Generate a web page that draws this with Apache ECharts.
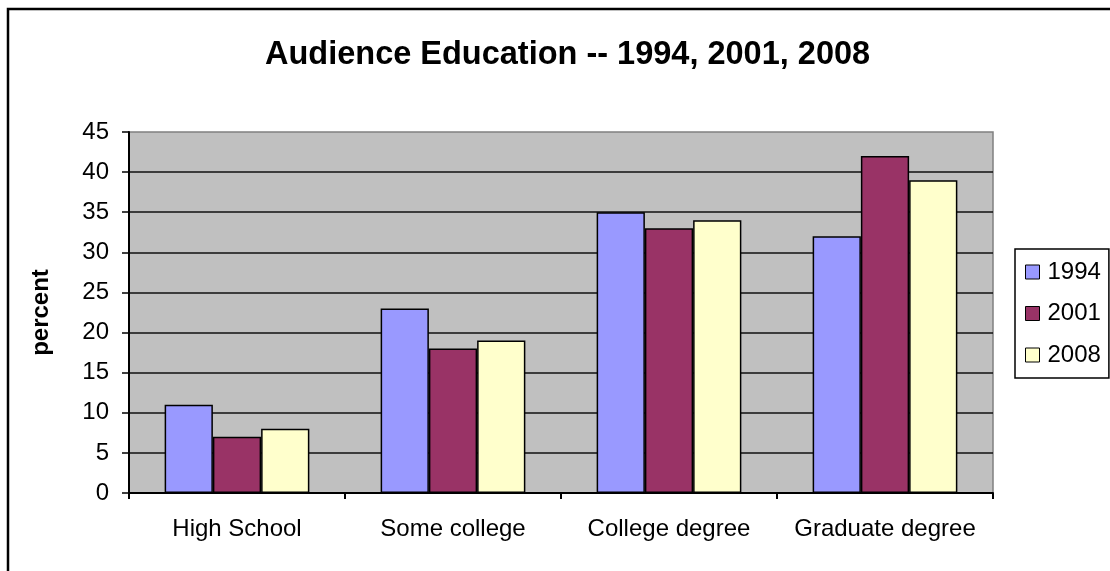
<!DOCTYPE html>
<html>
<head>
<meta charset="utf-8">
<script src="https://cdn.jsdelivr.net/npm/echarts@6/dist/echarts.min.js"></script>
<style>
  html, body { margin: 0; padding: 0; background: #fff; }
  #chart { width: 1110px; height: 571px; }
</style>
</head>
<body>
<div id="chart"></div>
<script>
var categories = ['High School', 'Some college', 'College degree', 'Graduate degree'];
var years = ['1994', '2001', '2008'];
var values1994 = [11, 23, 35, 32];
var values2001 = [7, 18, 33, 42];
var values2008 = [8, 19, 34, 39];
var colors = ['#9999FF', '#993366', '#FFFFCC'];
var yTicks = { min: 0, max: 45, interval: 5 };

var font = "'Liberation Sans', Arial, sans-serif";
var chart = echarts.init(document.getElementById('chart'));

function barSeries(name, data, color) {
    return {
        name: name,
        type: 'bar',
        data: data,
        barGap: '0%',
        barCategoryGap: '33%',
        itemStyle: { color: color, borderColor: '#000', borderWidth: 1.5 }
    };
}

var option = {
    animation: false,
    textStyle: { fontFamily: font },
    title: {
        text: 'Audience Education -- 1994, 2001, 2008',
        left: 260,
        top: 34,
        textStyle: { fontFamily: font, fontSize: 32.5, fontWeight: 'bold', color: '#000' }
    },
    graphic: [{
        type: 'rect',
        shape: { x: 8, y: 9, width: 1120, height: 580 },
        style: { fill: 'none', stroke: '#000', lineWidth: 2.5 },
        silent: true
    }],
    grid: {
        left: 129, right: 117, top: 132, bottom: 78,
        show: true, backgroundColor: '#C0C0C0', borderColor: '#808080', borderWidth: 1.5
    },
    legend: {
        orient: 'vertical',
        left: 1015, top: 249,
        padding: [11, 8, 11, 10],
        borderColor: '#000', borderWidth: 1.5,
        itemWidth: 14, itemHeight: 14, itemGap: 17.5,
        icon: 'rect',
        itemStyle: { borderColor: '#000', borderWidth: 1 },
        textStyle: { fontFamily: font, fontSize: 24, lineHeight: 24, color: '#000', padding: [0, 0, 0, 3] },
        data: years
    },
    xAxis: {
        type: 'category',
        data: categories,
        axisLine: { lineStyle: { color: '#000', width: 2 } },
        axisTick: { show: true, interval: 0, length: 6, lineStyle: { color: '#000', width: 2 } },
        axisLabel: { interval: 0, margin: 24, fontFamily: font, fontSize: 24, color: '#000' }
    },
    yAxis: {
        type: 'value',
        min: yTicks.min, max: yTicks.max, interval: yTicks.interval,
        name: 'percent',
        nameLocation: 'middle',
        nameRotate: 90,
        nameGap: 76,
        nameTextStyle: { fontFamily: font, fontSize: 24, fontWeight: 'bold', color: '#000' },
        axisLine: { show: true, lineStyle: { color: '#000', width: 2 } },
        axisTick: { show: true, length: 7, lineStyle: { color: '#000', width: 1.5 } },
        axisLabel: { margin: 20, fontFamily: font, fontSize: 24, color: '#000' },
        splitLine: { show: true, showMaxLine: false, lineStyle: { color: '#111', width: 1.5 } }
    },
    series: [
        barSeries(years[0], values1994, colors[0]),
        barSeries(years[1], values2001, colors[1]),
        barSeries(years[2], values2008, colors[2])
    ]
};

chart.setOption(option);
</script>
</body>
</html>
